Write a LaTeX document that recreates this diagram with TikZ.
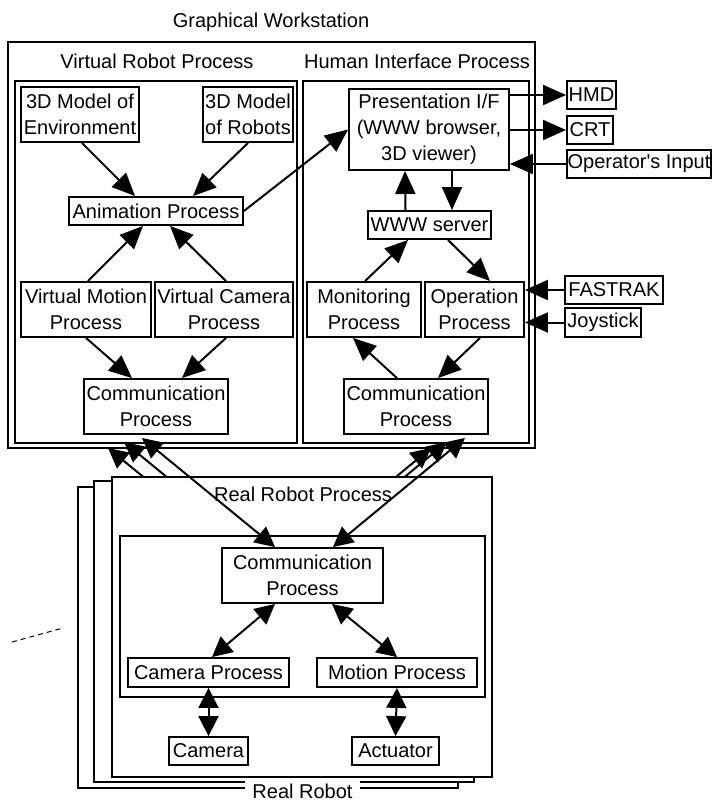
\documentclass[tikz,border=0pt]{standalone}
\usepackage{fontspec}
\setmainfont{Liberation Sans}
\usetikzlibrary{arrows.meta}
\pgfdeclarelayer{back}
\pgfsetlayers{back,main}
\begin{document}
\begin{tikzpicture}[x=1pt,y=-1pt,
  every node/.style={font=\fontsize{20}{26}\selectfont},
  proc/.style={draw, line width=1.9pt, fill=white, inner sep=0pt, align=center},
  panel/.style={draw, line width=1.9pt},
  caption/.style={anchor=base, inner sep=0pt},
  oneway/.style={line width=2pt, -{Triangle[length=23pt,width=20pt]}},
  twoway/.style={line width=2pt, {Triangle[length=20pt,width=20pt]}-{Triangle[length=20pt,width=20pt]}},
]
\useasboundingbox (0,0) rectangle (712,801);

% ---------------- Graphical workstation ----------------
\node[caption] (gwlabel) at (271,27) {Graphical Workstation};
\draw[panel] (8,42) rectangle (535,448);
\node[caption] (vrlabel) at (157,68) {Virtual Robot Process};
\node[caption] (hilabel) at (417,68) {Human Interface Process};
\draw[panel] (15,81) rectangle (297,443);
\draw[panel] (303,81) rectangle (529,443);

% Virtual robot process
\node[proc, minimum width=118pt, minimum height=55pt] (env) at (80,114.5) {3D Model of\\Environment};
\node[proc, minimum width=90pt, minimum height=55pt] (rob) at (248,114.5) {3D Model\\of Robots};
\node[proc, minimum width=174pt, minimum height=28pt] (anim) at (156,211) {Animation Process};
\node[proc, minimum width=130pt, minimum height=55pt] (vmot) at (86,309.5) {Virtual Motion\\Process};
\node[proc, minimum width=138pt, minimum height=55pt] (vcam) at (224,309.5) {Virtual Camera\\Process};
\node[proc, minimum width=144pt, minimum height=55pt] (vcom) at (156,406.5) {Communication\\Process};

\draw[oneway] ([xshift=2pt]env.south) -- ([xshift=-21pt]anim.north);
\draw[oneway] (rob.south) -- ([xshift=37pt]anim.north);
\draw[oneway] ([xshift=2pt]vmot.north) -- ([xshift=-13pt]anim.south);
\draw[oneway] ([xshift=2pt]vcam.north) -- ([xshift=14pt]anim.south);
\draw[oneway] (vmot.south) -- ([xshift=-24pt]vcom.north);
\draw[oneway] ([xshift=2pt]vcam.south) -- ([xshift=26pt]vcom.north);

% Human interface process
\node[proc, minimum width=160pt, minimum height=81pt] (pres) at (429,129.5) {Presentation I/F\\(WWW browser,\\3D viewer)};
\node[proc, minimum width=49pt, minimum height=28pt] (hmd) at (591.5,95) {HMD};
\node[proc, minimum width=46pt, minimum height=28pt] (crt) at (590,130) {CRT};
\node[proc, minimum width=144pt, minimum height=28pt] (opin) at (639,164) {Operator\textquotesingle s Input};
\node[proc, minimum width=123pt, minimum height=28pt] (www) at (429.5,225) {WWW server};
\node[proc, minimum width=114pt, minimum height=55pt] (mon) at (364,309.5) {Monitoring\\Process};
\node[proc, minimum width=99pt, minimum height=55pt] (op) at (474.5,309.5) {Operation\\Process};
\node[proc, minimum width=98pt, minimum height=28pt] (fast) at (614,290) {FASTRAK};
\node[proc, minimum width=76pt, minimum height=29pt] (joy) at (603,322.5) {Joystick};
\node[proc, minimum width=144pt, minimum height=55pt] (hcom) at (416,406.5) {Communication\\Process};

\draw[oneway] (anim.east) -- (pres.west);
\draw[oneway] (hmd.west -| pres.east) -- (hmd.west);
\draw[oneway] (crt.west -| pres.east) -- (crt.west);
\draw[oneway] (opin.west) -- (opin.west -| pres.east);
\draw[oneway] ([xshift=-24pt]www.north) -- ([xshift=-24pt]pres.south);
\draw[oneway] ([xshift=23pt]pres.south) -- ([xshift=22.5pt]www.north);
\draw[oneway] ([xshift=1pt]mon.north) -- ([xshift=-21.5pt]www.south);
\draw[oneway] ([xshift=18.5pt]www.south) -- ([xshift=15.5pt]op.north);
\draw[oneway] (fast.west) -- (fast.west -| op.east);
\draw[oneway] (joy.west) -- (joy.west -| op.east);
\draw[oneway] ([xshift=5.5pt]op.south) -- ([xshift=22pt]hcom.north);
\draw[oneway] ([xshift=-19pt]hcom.north) -- ([xshift=-11pt]mon.south);

% ---------------- Real robot (front of the stack) ----------------
\draw[panel, fill=white] (112,477) rectangle (492,777);
\node[caption] (rrlabel) at (303,501) {Real Robot Process};
\draw[panel] (120,536) rectangle (485,697);
\node[proc, minimum width=161pt, minimum height=55pt] (rcom) at (302.5,575.5) {Communication\\Process};
\node[proc, minimum width=161pt, minimum height=29pt] (campr) at (208.5,672.5) {Camera Process};
\node[proc, minimum width=160pt, minimum height=29pt] (motpr) at (397,672.5) {Motion Process};
\node[proc, minimum width=79pt, minimum height=28pt] (cam) at (208.5,751) {Camera};
\node[proc, minimum width=87pt, minimum height=28pt] (act) at (395.5,751) {Actuator};

\draw[twoway] ([xshift=-27.5pt]rcom.south) -- ([xshift=3.5pt]campr.north);
\draw[twoway] ([xshift=29.5pt]rcom.south) -- (motpr.north);
\draw[twoway] (campr.south) -- (cam.north);
\draw[twoway] (motpr.south) -- (act.north);

% links between the robot and the workstation
\draw[twoway] ([xshift=-27.5pt]rcom.north) -- ([xshift=-14pt,yshift=-3pt]vcom.south);
\draw[twoway] ([xshift=30.5pt]rcom.north) -- ([xshift=49pt,yshift=-3pt]hcom.south);

% the other robots of the stack, further back
\begin{pgfonlayer}{back}
  \draw[panel, fill=white] (78,487) rectangle (458,788);
  \draw[twoway] ([xshift=-61.5pt,yshift=-10pt]rcom.north) -- ([xshift=-48pt,yshift=-13pt]vcom.south);
  \draw[twoway] ([xshift=-3.5pt,yshift=-10pt]rcom.north) -- ([xshift=15pt,yshift=-13pt]hcom.south);
  \draw[panel, fill=white] (94,481) rectangle (474,782);
  \draw[twoway] ([xshift=-45.5pt,yshift=-4pt]rcom.north) -- ([xshift=-32pt,yshift=-7pt]vcom.south);
  \draw[twoway] ([xshift=12.5pt,yshift=-4pt]rcom.north) -- ([xshift=31pt,yshift=-7pt]hcom.south);
\end{pgfonlayer}

\node[caption, fill=white, inner xsep=7pt, inner ysep=4pt] (robotlabel) at (302.5,798) {Real Robot};

% more robots
\draw[line width=1pt, dash pattern=on 5pt off 4pt] (12,642) -- (63,628);
\end{tikzpicture}
\end{document}
